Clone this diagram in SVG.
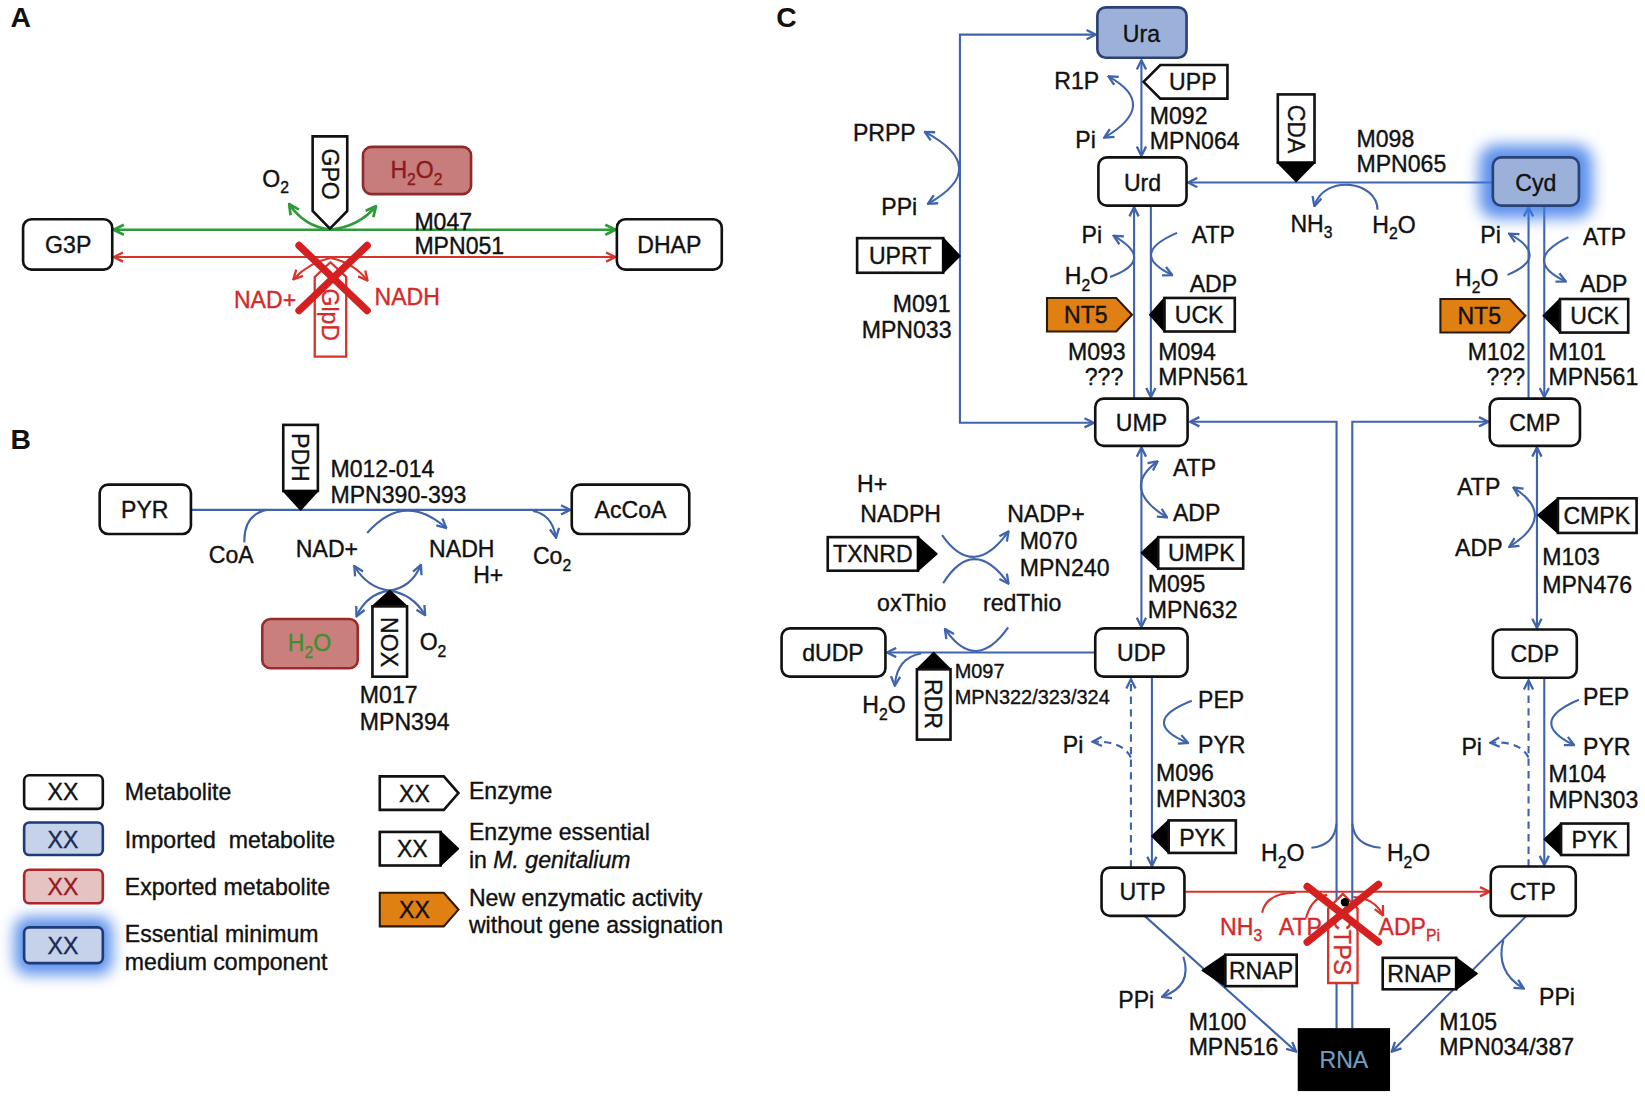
<svg xmlns="http://www.w3.org/2000/svg" width="1645" height="1096" viewBox="0 0 1645 1096">
<defs>
<style>
.t{font-family:"Liberation Sans",Arial,Helvetica,sans-serif;font-size:22px;fill:#111;stroke:#111;stroke-width:0.35}
.s{font-size:19px}
.h{font-family:"Liberation Sans",Arial,sans-serif;font-size:27px;font-weight:bold;fill:#111}
.c{text-anchor:middle}
.e{text-anchor:end}
.r{fill:#d42a2a;stroke:#d42a2a}
.bx{fill:#fff;stroke:#111;stroke-width:2.5}
.imp{fill:#9cb1da;stroke:#2a4276;stroke-width:2.5}
.enz{fill:#fff;stroke:#111;stroke-width:2.5}
.tip{fill:#000;stroke:#000;stroke-width:1.5;stroke-linejoin:round}
.org{fill:#e07f12;stroke:#2a1a05;stroke-width:2}
.ln{fill:none;stroke:#3f64ad;stroke-width:2}
.lnA{fill:none;stroke:#3f64ad;stroke-width:2;marker-end:url(#ab)}
.lnAA{fill:none;stroke:#3f64ad;stroke-width:2;marker-start:url(#ab);marker-end:url(#ab)}
.dash{stroke-dasharray:7 5}
.rl{fill:none;stroke:#d8342b;stroke-width:2}
.gl{fill:none;stroke:#2f9a3a;stroke-width:2.5}
.x{stroke:#d42020;stroke-width:7;stroke-linecap:round}
</style>
<marker id="ab" viewBox="0 0 10 10" refX="8.5" refY="5" markerWidth="11" markerHeight="11" markerUnits="userSpaceOnUse" orient="auto-start-reverse"><path d="M1,1 L9,5 L1,9" fill="none" stroke="#3f64ad" stroke-width="2"/></marker>
<marker id="ar" viewBox="0 0 10 10" refX="8.5" refY="5" markerWidth="11" markerHeight="11" markerUnits="userSpaceOnUse" orient="auto-start-reverse"><path d="M1,1 L9,5 L1,9" fill="none" stroke="#d8342b" stroke-width="2"/></marker>
<marker id="ag" viewBox="0 0 10 10" refX="8.5" refY="5" markerWidth="12" markerHeight="12" markerUnits="userSpaceOnUse" orient="auto-start-reverse"><path d="M1,1 L9,5 L1,9" fill="none" stroke="#2f9a3a" stroke-width="2.2"/></marker>
<filter id="glow" x="-50%" y="-50%" width="200%" height="200%"><feGaussianBlur stdDeviation="7"/></filter>
</defs>
<rect width="1645" height="1096" fill="#fff"/>
<g transform="scale(1.0491)">

<!-- Panel labels -->
<text class="h" x="10" y="26">A</text>
<text class="h" x="10" y="428">B</text>
<text class="h" x="740" y="26">C</text>

<!-- ============ Connectors ============ -->
<g id="connectors">
<!-- Panel A -->
<line class="gl" x1="109" y1="219" x2="586" y2="219" marker-start="url(#ag)" marker-end="url(#ag)"/>
<line class="rl" x1="109" y1="245" x2="586" y2="245" marker-start="url(#ar)" marker-end="url(#ar)"/>
<path class="gl" d="M315,219 Q290,216 276,195" marker-end="url(#ag)"/>
<path class="gl" d="M315,219 Q342,216 358,197" marker-end="url(#ag)"/>
<path class="rl" d="M315,246 Q295,250 280,266" marker-end="url(#ar)"/>
<path class="rl" d="M315,246 Q336,250 350,267" marker-end="url(#ar)"/>
<!-- Panel B -->
<line class="lnA" x1="183" y1="486" x2="543" y2="486"/>
<path class="ln" d="M233,517 Q232,491 254,486"/>
<path class="lnA" d="M350,508 Q385,468 425,503"/>
<path class="lnA" d="M508,487 Q526,490 530,512"/>
<path class="lnA" d="M371,563 Q350,560 338,540"/>
<path class="lnA" d="M371,563 Q392,560 401,539"/>
<path class="lnA" d="M371,563 Q350,566 340,587"/>
<path class="lnA" d="M371,563 Q393,566 405,586"/>
<!-- Panel C main -->
<line class="lnAA" x1="1088" y1="58" x2="1088" y2="148"/>
<path class="lnAA" d="M1042,403 H915 V33 H1044"/>
<line class="lnA" x1="1423" y1="174" x2="1133" y2="174"/>
<line class="lnA" x1="1097" y1="197" x2="1097" y2="378"/>
<line class="lnA" x1="1081" y1="380" x2="1081" y2="198"/>
<line class="lnA" x1="1472" y1="197" x2="1472" y2="378"/>
<line class="lnA" x1="1457" y1="380" x2="1457" y2="198"/>
<line class="lnAA" x1="1088" y1="427" x2="1088" y2="597"/>
<line class="lnAA" x1="1465" y1="427" x2="1465" y2="598"/>
<line class="lnA" x1="1044" y1="622" x2="846" y2="622"/>
<line class="lnA" x1="1098" y1="646" x2="1098" y2="825"/>
<line class="lnA dash" x1="1078" y1="827" x2="1078" y2="648"/>
<line class="lnA" x1="1472" y1="647" x2="1472" y2="824"/>
<line class="lnA dash" x1="1457" y1="826" x2="1457" y2="649"/>
<line class="rl" x1="1130" y1="850" x2="1419" y2="850" marker-end="url(#ar)"/>
<path class="lnA" d="M1274,980 V402 H1135"/>
<path class="lnA" d="M1289,980 V402 H1418"/>
<line class="lnA" x1="1091" y1="873" x2="1235" y2="1002"/>
<line class="lnA" x1="1455" y1="873" x2="1327" y2="1002"/>
<!-- Panel C side reactions -->
<path class="lnAA" d="M1057,73 Q1105,100 1053,131"/>
<path class="lnAA" d="M882,126 Q945,160 885,194"/>
<path class="lnA" d="M1058,264 Q1102,248 1062,225"/>
<path class="lnA" d="M1122,222 Q1075,242 1117,262"/>
<path class="lnA" d="M1437,262 Q1478,245 1439,223"/>
<path class="lnA" d="M1495,226 Q1450,248 1492,268"/>
<path class="lnA" d="M1313,200 C1313,172 1262,166 1253,196"/>
<path class="lnAA" d="M1103,440 Q1068,466 1112,493"/>
<path class="lnAA" d="M1443,465 Q1485,492 1439,521"/>
<path class="lnA" d="M898,510 Q928,553 961,507"/>
<path class="lnA" d="M899,556 Q928,510 961,556"/>
<path class="lnA" d="M961,598 Q930,642 901,600"/>
<path class="lnA" d="M878,623 Q855,627 853,653"/>
<path class="lnA" d="M1136,668 Q1085,688 1132,708"/>
<path class="lnA dash" d="M1078,722 Q1070,706 1042,707"/>
<path class="lnA" d="M1505,667 Q1455,688 1500,710"/>
<path class="lnA dash" d="M1457,722 Q1449,706 1421,708"/>
<path class="ln" d="M1250,808 Q1272,806 1274,785"/>
<path class="ln" d="M1316,808 Q1291,806 1289,785"/>
<path class="rl" d="M1203,870 Q1207,851 1235,851"/>
<path class="rl" d="M1245,875 Q1250,856 1265,853"/>
<path class="rl" d="M1290,855 Q1310,856 1318,872" marker-end="url(#ar)"/>
<path class="lnA" d="M1128,912 Q1137,940 1108,950"/>
<path class="lnA" d="M1433,896 Q1425,926 1452,942"/>
</g>

<!-- ============ Panel A nodes ============ -->
<g id="G3P"><rect class="bx" x="22" y="209" width="85" height="48" rx="8"/><text class="t c" x="65" y="241">G3P</text></g>
<g id="DHAP"><rect class="bx" x="588" y="209" width="100" height="48" rx="8"/><text class="t c" x="638" y="241">DHAP</text></g>
<g id="GPO"><path class="enz" d="M298,130 H331 V201 L314.5,218 L298,201 Z"/><text class="t c" transform="translate(314.5,166) rotate(90)" y="8">GPO</text></g>
<g id="O2a"><text class="t" x="250" y="178">O<tspan dy="6" font-size="15">2</tspan></text></g>
<g id="H2O2"><rect x="346" y="140" width="103" height="45" rx="8" fill="#c77d7b" stroke="#8f2a2a" stroke-width="2.5"/><text class="t c" x="397" y="170" style="fill:#8b1a1a;stroke:#8b1a1a">H<tspan dy="6" font-size="15">2</tspan><tspan dy="-6">O</tspan><tspan dy="6" font-size="15">2</tspan></text></g>
<g id="M047"><text class="t" x="395" y="219">M047</text><text class="t" x="395" y="242">MPN051</text></g>
<g id="GlpD"><path d="M300,340 V264 L315,250 L330,264 V340 Z" fill="#fff" stroke="#d8342b" stroke-width="2.2"/><text class="t c r" transform="translate(315,300) rotate(90)" y="8">GlpD</text></g>
<g id="Xa"><line class="x" x1="285" y1="234" x2="350" y2="296"/><line class="x" x1="350" y1="234" x2="285" y2="296"/></g>
<g id="NADa"><text class="t r" x="223" y="294">NAD+</text><text class="t r" x="357" y="291">NADH</text></g>

<!-- ============ Panel B nodes ============ -->
<g id="PYRb"><rect class="bx" x="95" y="462" width="87" height="47" rx="8"/><text class="t c" x="138" y="494">PYR</text></g>
<g id="AcCoA"><rect class="bx" x="545" y="462" width="112" height="47" rx="8"/><text class="t c" x="601" y="494">AcCoA</text></g>
<g id="PDH"><rect class="enz" x="270" y="405" width="33" height="63"/><path class="tip" d="M270,468 H303 L286.5,486 Z"/><text class="t c" transform="translate(286.5,436) rotate(90)" y="8">PDH</text></g>
<g id="PDHlab"><text class="t" x="315" y="455">M012-014</text><text class="t" x="315" y="479">MPN390-393</text></g>
<g id="CoA"><text class="t" x="199" y="537">CoA</text></g>
<g id="NADb"><text class="t" x="282" y="531">NAD+</text><text class="t" x="409" y="531">NADH</text><text class="t" x="451" y="556">H+</text></g>
<g id="Co2"><text class="t" x="508" y="538">Co<tspan dy="6" font-size="15">2</tspan></text></g>
<g id="NOX"><path class="tip" d="M355,578 H388 L371.5,563 Z"/><rect class="enz" x="355" y="578" width="33" height="67"/><text class="t c" transform="translate(371.5,612) rotate(90)" y="8">NOX</text></g>
<g id="H2Ob"><rect x="250" y="590" width="91" height="47" rx="8" fill="#c9807d" stroke="#9b2b2b" stroke-width="2.5"/><text class="t c" x="295" y="621" style="fill:#3f8f2f;stroke:#3f8f2f">H<tspan dy="6" font-size="15">2</tspan><tspan dy="-6">O</tspan></text></g>
<g id="O2b"><text class="t" x="400" y="620">O<tspan dy="6" font-size="15">2</tspan></text></g>
<g id="NOXlab"><text class="t" x="343" y="670">M017</text><text class="t" x="343" y="696">MPN394</text></g>

<!-- ============ Legend ============ -->
<g id="legend">
<rect class="bx" x="23" y="739" width="75" height="32" rx="5"/><text class="t c" x="60" y="763">XX</text><text class="t" x="119" y="763">Metabolite</text>
<rect x="23" y="784" width="75" height="31" rx="5" fill="#c5d2ea" stroke="#1f3a78" stroke-width="2.5"/><text class="t c" x="60" y="808" style="fill:#1a2a55;stroke:#1a2a55">XX</text><text class="t" x="119" y="808" xml:space="preserve">Imported  metabolite</text>
<rect x="23" y="829" width="75" height="32" rx="5" fill="#e6c3c3" stroke="#b02525" stroke-width="2.5"/><text class="t c" x="60" y="853" style="fill:#9a1a1a;stroke:#9a1a1a">XX</text><text class="t" x="119" y="853">Exported metabolite</text>
<rect x="14" y="874" width="93" height="55" rx="12" fill="#3d7ce8" opacity="0.85" filter="url(#glow)"/>
<rect x="23" y="884" width="75" height="34" rx="5" fill="#c5d2ea" stroke="#1f3a78" stroke-width="2.5"/><text class="t c" x="60" y="909" style="fill:#1a2a55;stroke:#1a2a55">XX</text>
<text class="t" x="119" y="898">Essential minimum</text><text class="t" x="119" y="925">medium component</text>
<path class="enz" d="M362,740 H423 L437,756 L423,772 H362 Z"/><text class="t c" x="395" y="764">XX</text><text class="t" x="447" y="762">Enzyme</text>
<rect class="enz" x="362" y="793" width="58" height="32"/><path class="tip" d="M420,793 L437,809 L420,825 Z"/><text class="t c" x="393" y="817">XX</text>
<text class="t" x="447" y="801">Enzyme essential</text><text class="t" x="447" y="827">in <tspan font-style="italic">M. genitalium</tspan></text>
<path class="org" d="M362,851 H423 L437,867 L423,883 H362 Z"/><text class="t c" x="395" y="875">XX</text>
<text class="t" x="447" y="864">New enzymatic activity</text><text class="t" x="447" y="889">without gene assignation</text>
</g>

<!-- ============ Panel C nodes ============ -->
<g id="Ura"><rect class="imp" x="1046" y="7" width="85" height="48" rx="8"/><text class="t c" x="1088" y="40">Ura</text></g>
<g id="Urd"><rect class="bx" x="1047" y="150" width="84" height="46" rx="8"/><text class="t c" x="1089" y="182">Urd</text></g>
<g id="Cyd"><rect x="1410" y="138" width="108" height="70" rx="16" fill="#3d7ce8" opacity="0.85" filter="url(#glow)"/><rect class="imp" x="1423" y="150" width="82" height="46" rx="8"/><text class="t c" x="1464" y="182">Cyd</text></g>
<g id="UMP"><rect class="bx" x="1044" y="380" width="88" height="45" rx="8"/><text class="t c" x="1088" y="411">UMP</text></g>
<g id="CMP"><rect class="bx" x="1420" y="380" width="86" height="45" rx="8"/><text class="t c" x="1463" y="411">CMP</text></g>
<g id="UDP"><rect class="bx" x="1044" y="599" width="88" height="46" rx="8"/><text class="t c" x="1088" y="630">UDP</text></g>
<g id="CDP"><rect class="bx" x="1423" y="600" width="80" height="46" rx="8"/><text class="t c" x="1463" y="631">CDP</text></g>
<g id="dUDP"><rect class="bx" x="745" y="599" width="99" height="46" rx="8"/><text class="t c" x="794" y="630">dUDP</text></g>
<g id="UTP"><rect class="bx" x="1050" y="827" width="79" height="46" rx="8"/><text class="t c" x="1089" y="858">UTP</text></g>
<g id="CTP"><rect class="bx" x="1421" y="826" width="81" height="47" rx="8"/><text class="t c" x="1461" y="858">CTP</text></g>
<g id="RNA"><rect x="1237" y="980" width="88" height="60" fill="#000"/><text class="t c" x="1281" y="1018" style="fill:#6f9fc2;stroke:#6f9fc2;stroke-width:0.2">RNA</text></g>

<!-- Enzymes C -->
<g id="UPRT"><rect class="enz" x="817" y="227" width="82" height="33"/><path class="tip" d="M899,227 L915,244 L899,260 Z"/><text class="t c" x="858" y="252">UPRT</text></g>
<g id="UPP"><path class="enz" d="M1090,78 L1106,62 H1170 V94 H1106 Z"/><text class="t c" x="1137" y="86">UPP</text></g>
<g id="CDA"><rect class="enz" x="1218" y="90" width="35" height="65"/><path class="tip" d="M1218,155 H1253 L1235.5,173 Z"/><text class="t c" transform="translate(1235.5,123) rotate(90)" y="8">CDA</text></g>
<g id="NT5a"><path class="org" d="M998,284 H1064 L1079,300 L1064,316 H998 Z"/><text class="t c" x="1035" y="308">NT5</text></g>
<g id="UCKa"><path class="tip" d="M1096,300 L1110,284 V316 Z"/><rect class="enz" x="1110" y="284" width="67" height="32"/><text class="t c" x="1143" y="308">UCK</text></g>
<g id="NT5b"><path class="org" d="M1373,285 H1439 L1454,301 L1439,317 H1373 Z"/><text class="t c" x="1410" y="309">NT5</text></g>
<g id="UCKb"><path class="tip" d="M1471,301 L1487,285 V317 Z"/><rect class="enz" x="1487" y="285" width="65" height="32"/><text class="t c" x="1520" y="309">UCK</text></g>
<g id="UMPK"><path class="tip" d="M1088,527 L1104,512 V542 Z"/><rect class="enz" x="1104" y="512" width="81" height="30"/><text class="t c" x="1145" y="535">UMPK</text></g>
<g id="CMPK"><path class="tip" d="M1466,491 L1485,475 V508 Z"/><rect class="enz" x="1485" y="475" width="75" height="33"/><text class="t c" x="1522" y="499">CMPK</text></g>
<g id="TXNRD"><rect class="enz" x="789" y="512" width="86" height="32"/><path class="tip" d="M875,512 L893,528 L875,544 Z"/><text class="t c" x="832" y="536">TXNRD</text></g>
<g id="RDR"><path class="tip" d="M874,638 H906 L890,622 Z"/><rect class="enz" x="874" y="638" width="32" height="67"/><text class="t c" transform="translate(890,671) rotate(90)" y="8">RDR</text></g>
<g id="PYKa"><path class="tip" d="M1098,797 L1114,782 V813 Z"/><rect class="enz" x="1114" y="782" width="64" height="31"/><text class="t c" x="1146" y="806">PYK</text></g>
<g id="PYKb"><path class="tip" d="M1472,800 L1488,785 V815 Z"/><rect class="enz" x="1488" y="785" width="64" height="30"/><text class="t c" x="1520" y="808">PYK</text></g>
<g id="RNAPa"><path class="tip" d="M1146,925 L1168,910 V940 Z"/><rect class="enz" x="1168" y="910" width="68" height="30"/><text class="t c" x="1202" y="933">RNAP</text></g>
<g id="RNAPb"><rect class="enz" x="1318" y="913" width="70" height="30"/><path class="tip" d="M1388,913 L1408,928 L1388,943 Z"/><text class="t c" x="1353" y="936">RNAP</text></g>
<g id="CTPS"><path d="M1266,937 V866 L1280,852 L1294,866 V937 Z" fill="#fff" stroke="#d8342b" stroke-width="2.2"/><text class="t c r" transform="translate(1280,900) rotate(90)" y="8">CTPS</text></g>
<g id="Xc"><line class="x" x1="1246" y1="845" x2="1314" y2="898"/><line class="x" x1="1314" y1="843" x2="1246" y2="898"/><circle cx="1282" cy="860" r="4" fill="#000"/></g>

<!-- Labels C -->
<g id="labelsC">
<text class="t" x="1005" y="85">R1P</text>
<text class="t" x="1025" y="141">Pi</text>
<text class="t" x="1096" y="118">M092</text>
<text class="t" x="1096" y="142">MPN064</text>
<text class="t" x="813" y="134">PRPP</text>
<text class="t" x="840" y="205">PPi</text>
<text class="t e" x="906" y="297">M091</text>
<text class="t e" x="907" y="322">MPN033</text>
<text class="t" x="1293" y="140">M098</text>
<text class="t" x="1293" y="164">MPN065</text>
<text class="t" x="1230" y="221">NH<tspan dy="6" font-size="15">3</tspan></text>
<text class="t" x="1308" y="222">H<tspan dy="6" font-size="15">2</tspan><tspan dy="-6">O</tspan></text>
<text class="t" x="1031" y="232">Pi</text>
<text class="t" x="1015" y="271">H<tspan dy="6" font-size="15">2</tspan><tspan dy="-6">O</tspan></text>
<text class="t" x="1136" y="232">ATP</text>
<text class="t" x="1134" y="278">ADP</text>
<text class="t" x="1018" y="343">M093</text>
<text class="t" x="1034" y="367">???</text>
<text class="t" x="1104" y="343">M094</text>
<text class="t" x="1104" y="367">MPN561</text>
<text class="t" x="1411" y="232">Pi</text>
<text class="t" x="1387" y="273">H<tspan dy="6" font-size="15">2</tspan><tspan dy="-6">O</tspan></text>
<text class="t" x="1509" y="234">ATP</text>
<text class="t" x="1506" y="278">ADP</text>
<text class="t" x="1399" y="343">M102</text>
<text class="t" x="1417" y="367">???</text>
<text class="t" x="1476" y="343">M101</text>
<text class="t" x="1476" y="367">MPN561</text>
<text class="t" x="1118" y="454">ATP</text>
<text class="t" x="1118" y="497">ADP</text>
<text class="t" x="1094" y="564">M095</text>
<text class="t" x="1094" y="589">MPN632</text>
<text class="t" x="817" y="469">H+</text>
<text class="t" x="820" y="498">NADPH</text>
<text class="t" x="960" y="498">NADP+</text>
<text class="t" x="972" y="523">M070</text>
<text class="t" x="972" y="549">MPN240</text>
<text class="t" x="836" y="582">oxThio</text>
<text class="t" x="937" y="582">redThio</text>
<text class="t s" x="910" y="646">M097</text>
<text class="t s" x="910" y="671">MPN322/323/324</text>
<text class="t" x="822" y="680">H<tspan dy="6" font-size="15">2</tspan><tspan dy="-6">O</tspan></text>
<text class="t" x="1389" y="472">ATP</text>
<text class="t" x="1387" y="530">ADP</text>
<text class="t" x="1470" y="539">M103</text>
<text class="t" x="1470" y="565">MPN476</text>
<text class="t" x="1142" y="675">PEP</text>
<text class="t" x="1142" y="718">PYR</text>
<text class="t" x="1013" y="718">Pi</text>
<text class="t" x="1102" y="744">M096</text>
<text class="t" x="1102" y="769">MPN303</text>
<text class="t" x="1509" y="672">PEP</text>
<text class="t" x="1509" y="720">PYR</text>
<text class="t" x="1393" y="720">Pi</text>
<text class="t" x="1476" y="745">M104</text>
<text class="t" x="1476" y="770">MPN303</text>
<text class="t" x="1202" y="821">H<tspan dy="6" font-size="15">2</tspan><tspan dy="-6">O</tspan></text>
<text class="t" x="1322" y="821">H<tspan dy="6" font-size="15">2</tspan><tspan dy="-6">O</tspan></text>
<text class="t r" x="1163" y="891">NH<tspan dy="6" font-size="15">3</tspan></text>
<text class="t r" x="1219" y="891">ATP</text>
<text class="t r" x="1314" y="891">ADP<tspan dy="6" font-size="15">Pi</tspan></text>
<text class="t" x="1066" y="961">PPi</text>
<text class="t" x="1133" y="982">M100</text>
<text class="t" x="1133" y="1006">MPN516</text>
<text class="t" x="1467" y="958">PPi</text>
<text class="t" x="1372" y="982">M105</text>
<text class="t" x="1372" y="1006">MPN034/387</text>
</g>
</g>
</svg>
